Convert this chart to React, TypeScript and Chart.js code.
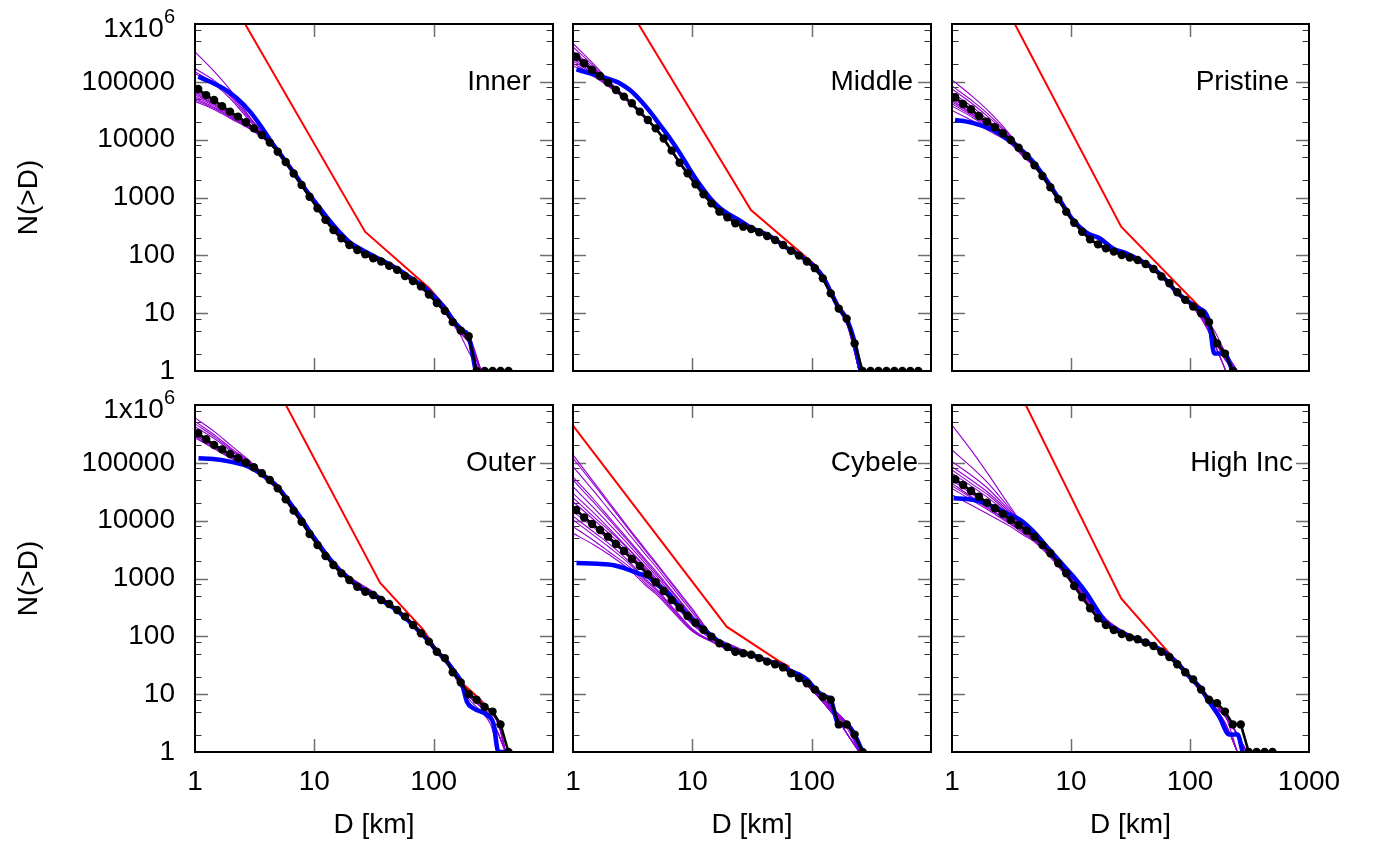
import React, { useEffect, useRef } from 'react';
import { Chart, registerables } from 'chart.js';

Chart.register(...registerables);

const FONT = '"Liberation Sans", Arial, Helvetica, sans-serif';

// ---------- shared grids ----------
const D_GRID = [1.063, 1.240, 1.445, 1.686, 1.965, 2.291, 2.672, 3.114, 3.631, 4.234, 4.935, 5.754, 6.710, 7.822, 9.120, 10.63, 12.40, 14.45, 16.86, 19.65, 22.91, 26.72, 31.14, 36.31, 42.34, 49.35, 57.54, 67.10, 78.22, 91.20, 106.3, 124.0, 144.5, 168.6, 196.5, 229.1, 267.2, 311.4, 363.1, 423.4, 493.5, 575.4, 671.0, 782.2];
const PURPLE_D = [1, 1.5, 2, 3, 4, 5, 7, 10, 15, 20, 30, 50, 80, 120, 160, 200, 250, 300, 350, 400];
const X_TICKS = [1, 10, 100, 1000];
const Y_TICKS = [1, 10, 100, 1000, 10000, 100000, 1000000];

// ---------- Inner ----------
const INNER_BLACK = [75000, 59000, 48500, 38000, 30500, 25000, 20000, 15700, 12000, 8900, 6200, 4100, 2600, 1650, 1030, 650, 410, 275, 197, 151, 124, 104, 89, 78, 66, 56, 44, 36, 29, 21, 15, 11, 7, 5, 4, 1, 1, 1, 1, 1];
const INNER_BLUE = [[1.066, 123000], [1.34, 100000], [1.73, 77000], [2.24, 52000], [2.89, 30500], [3.51, 17900], [4.25, 9900], [5.0, 6200], [5.9, 3900], [7.1, 2300], [8.5, 1350], [10.5, 760], [13, 430], [16, 260], [20, 165], [25, 125], [32, 95], [40, 75], [50, 58], [65, 40], [80, 30], [100, 20], [125, 12], [150, 7], [175, 5], [196, 4], [225, 1]];
const INNER_RED = [[1, 3.16e7], [26.6, 256], [92, 27], [125, 13], [146, 7]];
const INNER_PURPLE = [
  [330000, 140000, 70000, 22000, 11500, 6800, 2600, 880, 270, 155, 95, 57, 28, 12, 5.5, 3.5, 1],
  [170000, 100000, 60000, 21000, 11000, 6600, 2500, 860, 265, 152, 94, 56, 27, 12, 5, 3, 1],
  [150000, 90000, 55000, 20000, 10800, 6500, 2500, 850, 260, 150, 93, 55, 27, 11, 5, 3, 1],
  [140000, 85000, 50000, 19000, 10500, 6400, 2450, 840, 262, 150, 92, 56, 28, 12, 6, 3, 1],
  [68000, 42000, 29000, 16500, 10200, 6300, 2450, 830, 260, 152, 93, 55, 26, 11, 5, 3, 1],
  [60000, 39000, 27000, 15500, 9800, 6100, 2350, 800, 250, 148, 92, 54, 27, 12, 5, 3, 1],
  [52000, 35000, 25000, 15000, 9600, 6000, 2300, 790, 245, 145, 90, 55, 28, 13, 6, 4, 1],
  [46000, 32000, 23000, 14500, 9400, 5900, 2250, 780, 240, 143, 90, 56, 29, 13, 6, 3, 1],
  [72000, 45000, 30000, 17000, 10600, 6500, 2600, 900, 280, 160, 96, 56, 27, 11, 5, 2, 1],
  [64000, 40000, 28000, 16000, 10000, 6200, 2400, 815, 255, 150, 92, 55, 27, 12, 5, 3, 1],
  [56000, 37000, 26000, 15200, 9700, 6050, 2330, 795, 248, 146, 91, 55, 27, 12, 5, 3, 1],
  [49000, 33500, 24000, 14700, 9500, 5950, 2280, 785, 243, 144, 90, 55, 28, 13, 6, 3, 1],
  [78000, 46000, 30500, 16800, 10100, 6100, 2350, 810, 258, 150, 93, 55, 28, 12, 5.5, 3.5, 1],
];

// ---------- Middle ----------
const MIDDLE_BLACK = [272000, 209000, 160000, 126000, 96800, 72300, 55500, 42500, 30500, 21900, 15700, 10500, 6460, 4000, 2620, 1690, 1135, 792, 569, 454, 358, 313, 285, 250, 216, 184, 151, 120, 99, 78, 60, 40, 22, 12, 8, 3, 1, 1, 1, 1, 1, 1, 1, 1];
const MIDDLE_BLUE = [[1.07, 164000], [1.39, 140000], [1.92, 115000], [2.48, 94000], [3.0, 72000], [3.65, 48500], [4.42, 30500], [5.36, 17900], [6.5, 10500], [7.88, 5800], [9.57, 3000], [11.6, 1650], [14.1, 970], [17.1, 650], [20.7, 500], [25.1, 397], [31, 300], [40, 240], [50, 185], [60, 140], [75, 108], [90, 82], [107, 62], [125, 42], [145, 23], [170, 12], [196, 8], [224, 3.7], [258, 1]];
const MIDDLE_RED = [[1, 7.4e7], [31, 608], [106.8, 68], [126, 40], [140, 28]];
const MIDDLE_PURPLE = [
  [460000, 200000, 105000, 46000, 25000, 15300, 5800, 2050, 740, 455, 292, 182, 96, 45, 16, 7, 1],
  [400000, 185000, 100000, 45500, 24800, 15200, 5700, 2000, 730, 445, 290, 180, 95, 44, 15, 7, 1],
  [340000, 170000, 96000, 45000, 24500, 15100, 5600, 1980, 720, 440, 288, 181, 95, 43, 14, 6, 1],
  [300000, 155000, 93000, 44500, 24500, 15000, 5600, 1950, 710, 438, 286, 179, 93, 42, 13, 6, 1],
  [250000, 140000, 88000, 43000, 24000, 14800, 5500, 1920, 700, 432, 284, 177, 94, 44, 15, 8, 1],
  [210000, 128000, 84000, 42500, 23500, 14600, 5400, 1900, 705, 436, 286, 181, 97, 46, 16, 7, 1],
  [190000, 122000, 82000, 42000, 23500, 14700, 5500, 1930, 725, 450, 293, 183, 96, 45, 15, 7, 1],
  [270000, 150000, 92000, 46000, 25500, 15600, 5900, 2060, 760, 468, 300, 183, 95, 43, 14, 6, 1],
  [320000, 160000, 95000, 46000, 25200, 15400, 5750, 2020, 735, 445, 292, 181, 96, 44, 15, 7, 1],
  [230000, 135000, 86000, 43500, 24000, 14900, 5550, 1960, 720, 440, 290, 180, 95, 44, 15, 7, 1],
  [280000, 148000, 91000, 44800, 24600, 15100, 5650, 1990, 728, 442, 291, 181, 96, 45, 16, 7, 1],
];

// ---------- Pristine ----------
const PRISTINE_BLACK = [54000, 41400, 33500, 25700, 20500, 16400, 12900, 9870, 7270, 5220, 3600, 2350, 1500, 931, 569, 367, 256, 189, 155, 132, 116, 101, 92, 83, 71, 58, 43, 33, 23, 17, 13, 10, 7, 3, 2, 1];
const PRISTINE_BLUE = [[1.06, 21900], [1.33, 20500], [1.72, 17900], [2.22, 14700], [2.87, 10500], [3.72, 7080], [4.8, 4170], [6.22, 2010], [8.04, 905], [10.4, 408], [13.5, 246], [17.4, 197], [22.5, 132], [29.1, 108], [37.7, 83], [48.7, 60], [63, 37.5], [76.4, 23.5], [92.7, 16.9], [112, 13], [145, 7.1], [160, 2], [194, 2], [228, 1]];
const PRISTINE_RED = [[1, 1.17e8], [26.4, 313], [124, 12], [145, 7]];
const PRISTINE_PURPLE = [
  [108000, 55000, 32000, 13000, 6000, 3600, 1300, 450, 185, 133, 94, 56, 22, 10, 4, 2, 1],
  [85000, 46000, 28000, 12300, 5800, 3500, 1280, 440, 182, 132, 93, 55, 21, 10, 3.5, 1.5, 1],
  [75000, 41000, 25000, 11800, 5700, 3500, 1270, 440, 180, 131, 94, 57, 23, 11, 4, 2, 1],
  [65000, 36000, 22000, 11200, 5500, 3450, 1260, 435, 178, 130, 93, 56, 22, 10, 3, 1],
  [52000, 30000, 19500, 10500, 5400, 3400, 1250, 430, 176, 129, 92, 56, 22, 11, 4, 2, 1],
  [45000, 27000, 18000, 10000, 5300, 3350, 1240, 428, 175, 128, 92, 57, 23, 11, 5, 2, 1],
  [38000, 24000, 16000, 9500, 5100, 3300, 1230, 430, 178, 130, 93, 56, 22, 10, 3, 1],
  [32000, 21000, 14500, 9000, 5000, 3250, 1230, 432, 180, 131, 94, 55, 21, 9, 3, 1],
  [58000, 31000, 19500, 10600, 5450, 3420, 1255, 432, 178, 130, 93, 56, 22, 10.5, 4, 2, 1],
  [48000, 28000, 18500, 10300, 5350, 3380, 1245, 430, 177, 129, 92, 56, 22, 10.5, 4, 2, 1],
  [42000, 25500, 17000, 9800, 5200, 3320, 1235, 428, 176, 129, 92, 56, 22, 10, 4, 1.5, 1],
];

// ---------- Outer ----------
const OUTER_BLACK = [324000, 255000, 204000, 171000, 142000, 120000, 100700, 83700, 65900, 50500, 36200, 23400, 14900, 9600, 5890, 3800, 2450, 1710, 1230, 942, 722, 591, 519, 425, 362, 285, 219, 157, 113, 81, 54, 42, 24, 16, 10, 8, 6, 5, 3, 1];
const OUTER_BLUE = [[1.07, 120000], [1.42, 117000], [1.97, 105000], [2.71, 88300], [3.51, 66000], [4.23, 51000], [4.94, 38000], [5.75, 25500], [6.71, 16500], [7.82, 10700], [9.12, 6500], [10.63, 4200], [12.4, 2700], [14.45, 1850], [16.86, 1300], [19.65, 980], [22.91, 740], [26.72, 600], [31.14, 520], [36.31, 425], [49.35, 280], [67.1, 155], [91.2, 82], [106.3, 55], [124, 40], [146, 26], [172, 15.4], [190, 7.4], [215, 5.7], [279, 4.4], [317, 3.1], [349, 1], [397, 1]];
const OUTER_RED = [[1, 9.3e8], [35.5, 847], [82, 129], [106, 58], [130, 40], [170, 16], [220, 10], [300, 5]];
const OUTER_PURPLE = [
  [600000, 330000, 200000, 100000, 58000, 38000, 14500, 5400, 1800, 1050, 620, 290, 110, 44, 18, 10, 7, 5, 3, 1],
  [520000, 290000, 180000, 96000, 56000, 37000, 14000, 5200, 1750, 1020, 600, 285, 108, 43, 17, 9, 6, 4, 2, 1],
  [470000, 270000, 170000, 94000, 55000, 36500, 13800, 5100, 1700, 1000, 590, 282, 108, 44, 18, 10, 7, 5, 3, 1],
  [420000, 250000, 160000, 92000, 54000, 36000, 13500, 5000, 1680, 990, 580, 280, 107, 45, 19, 10, 7, 4, 2, 1],
  [300000, 180000, 128000, 85000, 50000, 34000, 12500, 4500, 1520, 900, 550, 278, 106, 43, 17, 9, 6, 4, 2, 1],
  [280000, 170000, 122000, 83000, 49000, 33500, 12300, 4400, 1500, 890, 545, 275, 105, 42, 16, 8, 5, 3, 1],
  [320000, 185000, 132000, 87000, 51500, 35000, 12900, 4700, 1600, 950, 570, 282, 108, 44, 18, 10, 7, 5, 3, 1],
  [360000, 200000, 140000, 89000, 53000, 36000, 13200, 4800, 1620, 960, 575, 285, 110, 45, 19, 11, 8, 5, 3, 1],
  [340000, 192000, 136000, 88000, 52500, 35500, 13000, 4750, 1600, 940, 565, 283, 109, 44, 18, 10, 7, 5, 3, 1],
  [300000, 178000, 127000, 85500, 51000, 34500, 12700, 4600, 1560, 920, 555, 280, 107, 44, 18, 10, 7, 5, 3, 1],
  [270000, 168000, 120000, 83000, 50000, 34000, 12500, 4550, 1540, 910, 550, 278, 106, 43, 17, 9, 6, 4, 2, 1],
];

// ---------- Cybele ----------
const CYBELE_BLACK = [15300, 11400, 8770, 6900, 5290, 3950, 2990, 2180, 1650, 1180, 860, 608, 425, 313, 225, 172, 130, 99, 76, 65, 54, 51, 48, 42, 36.5, 33, 29, 23, 19, 15.4, 12, 9, 8, 3, 3, 2, 1];
const CYBELE_BLUE = [[1.07, 1850], [1.6, 1800], [2.2, 1700], [2.71, 1500], [3.51, 1230], [4.25, 1075], [5.0, 800], [6.26, 560], [7.8, 330], [9.1, 235], [10.6, 175], [12.4, 134], [14.45, 102], [16.86, 80], [19.65, 66], [22.91, 56], [26.72, 51], [31.14, 48], [36.31, 43], [42.34, 38], [49.35, 34], [57.54, 31], [67.1, 25], [78.22, 22], [91.2, 18], [106.3, 12.5], [124, 9.5], [144.5, 8], [168.6, 3], [196.5, 3], [229, 2], [267, 1]];
const CYBELE_RED = [[1, 440000], [19.4, 147], [54, 36.5], [65, 30]];
const CYBELE_PURPLE = [
  [137000, 46000, 21000, 7000, 3300, 1850, 760, 300, 100, 75, 52, 34, 19, 9, 4.5, 3, 1],
  [120000, 42000, 19500, 6600, 3100, 1750, 720, 285, 98, 72, 50, 33, 18, 8, 4, 3, 1],
  [86000, 32000, 15500, 5600, 2700, 1550, 650, 260, 96, 70, 50, 34, 19, 9, 5, 3, 1],
  [57000, 23000, 11500, 4400, 2200, 1300, 560, 230, 92, 68, 49, 33, 18, 8, 4, 2, 1],
  [50500, 20500, 10500, 4100, 2050, 1200, 530, 220, 90, 66, 49, 33, 18, 8, 4, 3, 1],
  [38700, 16500, 8800, 3600, 1850, 1100, 480, 205, 88, 65, 48, 32, 18, 9, 4, 2, 1],
  [29700, 13500, 7400, 3100, 1650, 990, 440, 190, 86, 63, 48, 33, 19, 9, 5, 3, 1],
  [21300, 10300, 6000, 2700, 1450, 900, 400, 175, 85, 62, 47, 32, 18, 8, 4, 3, 1],
  [12000, 6300, 4000, 1900, 1000, 660, 300, 135, 80, 60, 47, 33, 18, 8, 4, 2, 1],
  [10300, 5500, 3500, 1750, 930, 620, 285, 130, 79, 60, 46, 32, 18, 8, 4, 3, 1],
  [7900, 4500, 2900, 1550, 850, 570, 270, 125, 78, 59, 47, 33, 19, 9, 5, 3, 1],
  [6050, 3800, 2600, 1400, 780, 530, 255, 122, 78, 59, 46, 32, 18, 8, 4, 2, 1],
  [17000, 8600, 5200, 2450, 1350, 830, 390, 168, 88, 63, 48, 33, 18, 9, 4.5, 3, 1],
  [14500, 7500, 4700, 2250, 1250, 780, 365, 160, 86, 62, 48, 33, 18, 9, 4.5, 2.5, 1],
  [25000, 11500, 6800, 3000, 1550, 940, 420, 182, 87, 63, 48, 33, 18, 9, 4.5, 3, 1],
];

// ---------- High Inc ----------
const HIGHINC_BLACK = [51900, 41400, 32600, 26000, 20500, 16400, 13100, 10300, 8420, 6720, 5290, 3800, 2730, 1830, 1230, 742, 473, 305, 205, 157, 129, 110, 96, 89, 78, 68, 54, 44, 33, 24, 18, 12, 8, 7, 5, 3, 3, 1, 1, 1, 1];
const HIGHINC_BLUE = [[1.03, 24400], [1.34, 23700], [1.73, 21300], [2.23, 17400], [2.89, 13400], [3.74, 10300], [4.84, 6460], [6.26, 3550], [8.09, 1950], [10.5, 1070], [13.5, 555], [19.8, 170], [26, 120], [33.1, 95], [48.7, 70], [76.4, 36.5], [98.9, 20], [120, 13.5], [145, 7.4], [176, 4.1], [214, 2], [251, 2], [277, 1]];
const HIGHINC_RED = [[1, 3.85e8], [26.4, 454], [81.5, 32], [100, 20], [136, 9], [165, 7.4]];
const HIGHINC_PURPLE = [
  [450000, 150000, 65000, 19000, 8500, 5600, 2600, 1050, 360, 180, 108, 66, 30, 12, 6, 4, 2, 1],
  [167000, 80000, 45000, 17000, 8600, 5700, 2700, 1100, 400, 195, 112, 67, 30, 12, 6, 3, 1],
  [105000, 58000, 36000, 15500, 8300, 5600, 2650, 1100, 390, 190, 110, 66, 31, 13, 7, 4, 2, 1],
  [86000, 48000, 31000, 14500, 8000, 5400, 2600, 1080, 380, 185, 108, 67, 30, 12, 6, 3, 1],
  [75000, 42000, 28000, 13500, 7700, 5300, 2550, 1050, 360, 180, 106, 66, 31, 13, 7, 4, 2, 1],
  [66000, 38000, 25000, 12800, 7500, 5200, 2500, 1020, 340, 172, 104, 67, 31, 13, 7, 5, 2, 1],
  [54000, 30000, 20000, 11000, 7000, 5000, 2400, 960, 300, 160, 100, 66, 30, 12, 6, 3, 1],
  [44000, 25000, 17000, 9800, 6500, 4700, 2300, 920, 290, 155, 99, 66, 31, 13, 7, 4, 2, 1],
  [36000, 22000, 15500, 9000, 6000, 4400, 2200, 880, 280, 150, 98, 65, 30, 12, 6, 4, 1],
  [28000, 18000, 13000, 8200, 5600, 4200, 2100, 850, 275, 150, 99, 66, 31, 13, 7, 4, 2, 1],
  [60000, 32000, 21000, 11500, 7200, 5100, 2450, 980, 320, 165, 102, 67, 31, 13, 7, 4, 2, 1],
  [50000, 28000, 19000, 10500, 6800, 4900, 2350, 940, 300, 158, 100, 66, 31, 13, 7, 4, 2, 1],
  [40000, 24000, 16500, 9500, 6300, 4600, 2250, 900, 290, 153, 99, 66, 30, 13, 7, 4, 2, 1],
];

const PANELS = [
  { name: 'Inner', row: 0, col: 0, black: INNER_BLACK, blue: INNER_BLUE, red: INNER_RED, purple: INNER_PURPLE, inset: 22 },
  { name: 'Middle', row: 0, col: 1, black: MIDDLE_BLACK, blue: MIDDLE_BLUE, red: MIDDLE_RED, purple: MIDDLE_PURPLE, inset: 18 },
  { name: 'Pristine', row: 0, col: 2, black: PRISTINE_BLACK, blue: PRISTINE_BLUE, red: PRISTINE_RED, purple: PRISTINE_PURPLE, inset: 20 },
  { name: 'Outer', row: 1, col: 0, black: OUTER_BLACK, blue: OUTER_BLUE, red: OUTER_RED, purple: OUTER_PURPLE, inset: 17 },
  { name: 'Cybele', row: 1, col: 1, black: CYBELE_BLACK, blue: CYBELE_BLUE, red: CYBELE_RED, purple: CYBELE_PURPLE, inset: 13 },
  { name: 'High Inc', row: 1, col: 2, black: HIGHINC_BLACK, blue: HIGHINC_BLUE, red: HIGHINC_RED, purple: HIGHINC_PURPLE, inset: 16 },
];

// ---------- layout ----------
const COLS = [
  { left: 0, width: 590, padL: 0, padR: 37 },
  { left: 545, width: 420, padL: 28, padR: 34 },
  { left: 924, width: 450, padL: 28, padR: 65 },
];
const ROWS = [
  { top: 0, height: 400, padT: 24, padB: 29 },
  { top: 380, height: 467, padT: 25, padB: 0 },
];

const decor = (p: any) => ({
  id: 'decor' + p.name.replace(/\s/g, ''),
  beforeDatasetsDraw(chart: any) {
    const { ctx, chartArea: a, scales } = chart;
    const ys = scales.y;
    const xs = scales.x;
    ctx.save();
    for (let e = 0; e <= 5; e++) {
      for (const m of [1, 2, 5, 8]) {
        const v = m * Math.pow(10, e);
        if (v <= 1 || v >= 1e6) continue;
        const py = Math.round(ys.getPixelForValue(v)) + 0.5;
        const major = m === 1;
        const len = major ? 13 : 6.5;
        ctx.strokeStyle = major ? '#6e6e6e' : '#333';
        ctx.lineWidth = major ? 1.5 : 1.2;
        ctx.beginPath();
        ctx.moveTo(a.left, py);
        ctx.lineTo(a.left + len, py);
        ctx.moveTo(a.right, py);
        ctx.lineTo(a.right - len, py);
        ctx.stroke();
      }
    }
    for (const v of [10, 100]) {
      const px = Math.round(xs.getPixelForValue(v)) + 0.5;
      ctx.strokeStyle = '#6e6e6e';
      ctx.lineWidth = 1.5;
      ctx.beginPath();
      ctx.moveTo(px, a.bottom);
      ctx.lineTo(px, a.bottom - 13);
      ctx.moveTo(px, a.top);
      ctx.lineTo(px, a.top + 13);
      ctx.stroke();
    }
    ctx.restore();
  },
  afterDatasetsDraw(chart: any) {
    const { ctx, chartArea: a, scales } = chart;
    const ys = scales.y;
    ctx.save();
    ctx.strokeStyle = '#000';
    ctx.lineWidth = 2;
    ctx.strokeRect(a.left, a.top, a.right - a.left, a.bottom - a.top);
    ctx.fillStyle = '#000';
    ctx.font = `28px ${FONT}`;
    ctx.textAlign = 'right';
    ctx.textBaseline = 'middle';
    ctx.fillText(p.name, a.right - p.inset, ys.getPixelForValue(1e5));
    if (p.col === 0) {
      const py = ys.getPixelForValue(1e6);
      ctx.textBaseline = 'alphabetic';
      ctx.font = `20px ${FONT}`;
      ctx.fillText('6', a.left - 20, py - 1);
      const w6 = ctx.measureText('6').width;
      ctx.font = `28px ${FONT}`;
      ctx.fillText('1x10', a.left - 20 - w6, py + 13);
    }
    ctx.restore();
  },
});

const zeroPad = (s: any) => {
  s.paddingTop = 0;
  s.paddingBottom = 0;
  s.paddingLeft = 0;
  s.paddingRight = 0;
};

function Panel({ p }: { p: any }) {
  const ref = useRef<HTMLCanvasElement>(null);
  const c = COLS[p.col];
  const r = ROWS[p.row];
  useEffect(() => {
    if (!ref.current) return;
    const datasets: any[] = [];
    datasets.push({
      data: p.black.map((n: number, i: number) => ({ x: D_GRID[i], y: n })),
      borderColor: '#000000',
      backgroundColor: '#000000',
      borderWidth: 2.6,
      pointRadius: 4.2,
      pointBorderWidth: 0,
      pointBackgroundColor: '#000000',
      tension: 0,
    });
    datasets.push({
      data: p.blue.map((q: number[]) => ({ x: q[0], y: q[1] })),
      borderColor: '#0000ff',
      borderWidth: 4.5,
      pointRadius: 0,
      cubicInterpolationMode: 'monotone',
    });
    datasets.push({
      data: p.red.map((q: number[]) => ({ x: q[0], y: q[1] })),
      borderColor: '#ff0000',
      borderWidth: 2,
      pointRadius: 0,
      tension: 0,
    });
    for (const line of p.purple) {
      datasets.push({
        data: line.map((n: number, i: number) => ({ x: PURPLE_D[i], y: n })),
        borderColor: '#9400d3',
        borderWidth: 1.1,
        pointRadius: 0,
        cubicInterpolationMode: 'monotone',
      });
    }
    const showY = p.col === 0;
    const showX = p.row === 1;
    const tickFont = { family: FONT, size: 28 };
    const chart = new Chart(ref.current, {
      type: 'line',
      data: { datasets },
      options: {
        responsive: false,
        animation: false,
        events: [],
        layout: { padding: { left: c.padL, right: c.padR, top: r.padT, bottom: r.padB } },
        plugins: { legend: { display: false }, tooltip: { enabled: false }, title: { display: false } },
        scales: {
          x: {
            type: 'logarithmic',
            min: 1,
            max: 1000,
            display: showX,
            position: 'bottom',
            grid: { display: false, drawTicks: false },
            border: { display: false },
            afterBuildTicks: (s: any) => { s.ticks = X_TICKS.map((v) => ({ value: v })); },
            afterFit: (s: any) => { zeroPad(s); if (showX) s.height = 95; },
            ticks: {
              font: tickFont,
              color: '#000',
              padding: 13,
              maxRotation: 0,
              autoSkip: false,
              callback: (v: any) => (Number(v) === 1000 && p.col !== 2 ? '' : String(v)),
            },
            title: { display: showX, text: 'D [km]', color: '#000', font: tickFont, padding: { top: 0, bottom: 5 } },
          },
          y: {
            type: 'logarithmic',
            min: 1,
            max: 1000000,
            display: showY,
            position: 'left',
            grid: { display: false, drawTicks: false },
            border: { display: false },
            afterBuildTicks: (s: any) => { s.ticks = Y_TICKS.map((v) => ({ value: v })); },
            afterFit: (s: any) => { zeroPad(s); if (showY) s.width = 195; },
            ticks: {
              font: tickFont,
              color: '#000',
              padding: 20,
              autoSkip: false,
              callback: (v: any) => (Number(v) === 1000000 ? '' : String(v)),
            },
            title: { display: showY, text: 'N(>D)', color: '#000', font: tickFont, padding: { top: 12, bottom: 0 } },
          },
        },
      },
      plugins: [decor(p)],
    } as any);
    return () => chart.destroy();
  }, []);
  return (
    <canvas
      ref={ref}
      width={c.width}
      height={r.height}
      style={{ position: 'absolute', left: c.left + 'px', top: r.top + 'px', width: c.width + 'px', height: r.height + 'px' }}
    />
  );
}

export default function App() {
  return (
    <div style={{ position: 'fixed', left: 0, top: 0, width: '1374px', height: '847px', background: '#ffffff', overflow: 'hidden' }}>
      {PANELS.map((p) => (
        <Panel key={p.name} p={p} />
      ))}
    </div>
  );
}
